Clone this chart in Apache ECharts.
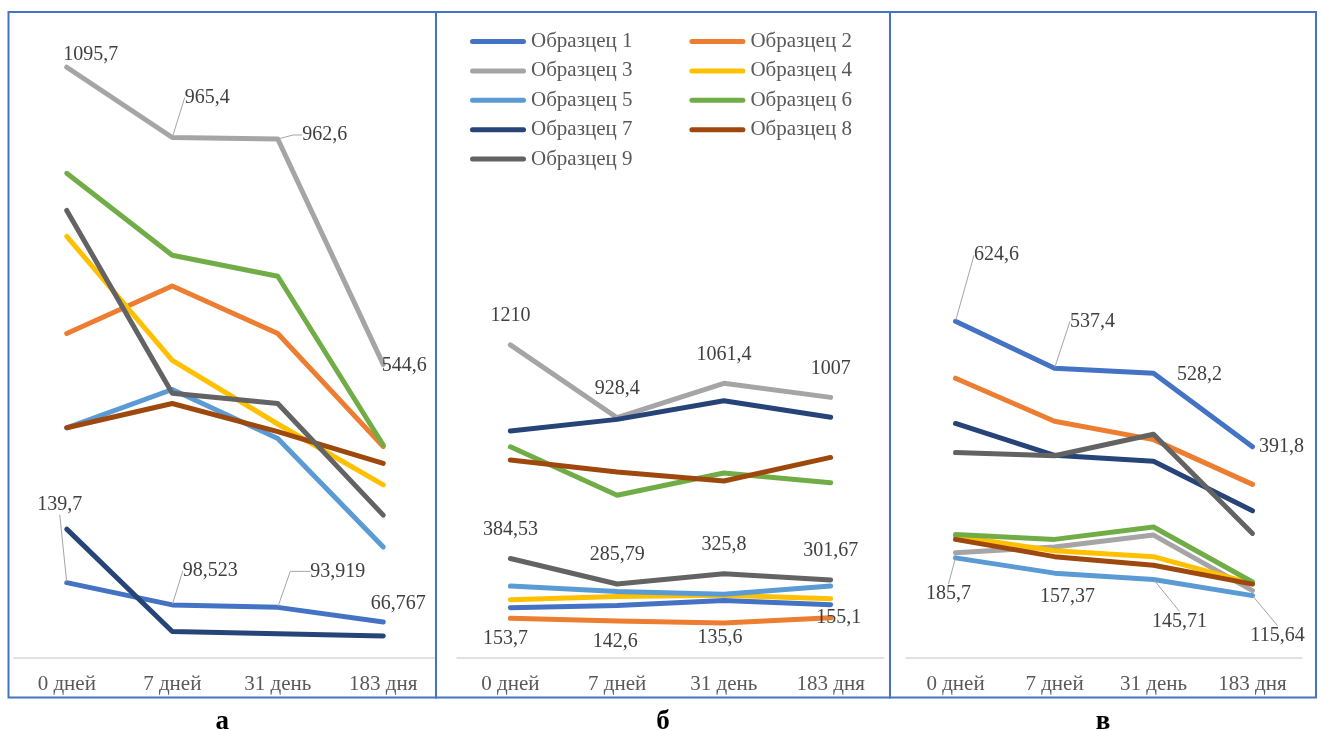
<!DOCTYPE html>
<html><head><meta charset="utf-8">
<script src="https://cdn.jsdelivr.net/npm/echarts@6/dist/echarts.min.js"></script>
<style>html,body{margin:0;padding:0;background:#fff}#c{width:1321px;height:731px}</style>
</head><body><div id="c"></div>
<script>
// ---------- data ----------
const categories = ['0 дней', '7 дней', '31 день', '183 дня'];
const seriesNames = ['Образцец 1','Образцец 2','Образцец 3','Образцец 4','Образцец 5','Образцец 6','Образцец 7','Образцец 8','Образцец 9'];
const panelLetters = ['а', 'б', 'в'];

// panel а (one row per sample)
const panelA = [
  [139.7, 98.523, 93.919, 66.767],
  [602, 690, 602, 392],
  [1095.7, 965.4, 962.6, 544.6],
  [782, 552, 434, 321],
  [427, 498, 407, 206],
  [899, 747, 708, 395],
  [239, 49, 45, 41],
  [427, 472, 420, 361],
  [830, 491, 472, 265]
];
// panel б
const panelB = [
  [194, 203, 222, 206],
  [153.7, 142.6, 135.6, 155.1],
  [1210, 928.4, 1061.4, 1007],
  [225, 238, 242, 229],
  [278, 257, 246, 278],
  [816, 629, 715, 677],
  [877, 922, 994, 930],
  [765, 719, 684, 775],
  [384.53, 285.79, 325.8, 301.67]
];
// panel в
const panelC = [
  [624.6, 537.4, 528.2, 391.8],
  [519, 439, 405, 322],
  [195, 206, 228, 125],
  [226, 199, 188, 138],
  [185.7, 157.37, 145.71, 115.64],
  [229, 220, 243, 141],
  [435, 376, 365, 273],
  [220, 188, 172, 137],
  [381, 375, 415, 231]
];
const yMax = [1200, 2500, 1200];

// ---------- styles ----------
const colors = ['#4472C4','#ED7D31','#A5A5A5','#FFC000','#5B9BD5','#70AD47','#264478','#9E480E','#636363'];
const grids = [
  {left: 14, width: 422, top: 11, height: 647},
  {left: 457, width: 427, top: 11, height: 647},
  {left: 906, width: 396, top: 11, height: 647}
];
const frames = [[8.5, 12, 427.5, 685.5], [436, 12, 454, 685.5], [890, 12, 426, 685.5]];
// label styling per panel: series index -> [offsets (label centre relative to point), leader length2 (-1 = none)]
const labelCfg = [
  {
    2: {off: [[24,-12],[35,-40],[47,-4],[21,1]], lead: [-1,0,9,-1]},
    0: {off: [[-7,-78],[38,-34],[60,-36],[15,-18]], lead: [0,0,20,-1]}
  },
  {
    2: {off: [[0,-29],[0,-29],[0,-29],[0,-29]], lead: [-1,-1,-1,-1]},
    8: {off: [[0,-29],[0,-29],[0,-29],[0,-29]], lead: [-1,-1,-1,-1]},
    1: {off: [[-5,21],[-2,21],[-4,15],[8,0]], lead: [-1,-1,-1,-1]}
  },
  {
    0: {off: [[41,-66],[38,-47],[46,2],[29,0]], lead: [0,0,-1,-1]},
    4: {off: [[-7,36],[13,24],[26,42],[25,40]], lead: [0,-1,0,0]}
  }
];
const serif = 'Liberation Serif';

const fmt = v => String(v).replace('.', ',');
const panels = [panelA, panelB, panelC];

const xAxis = [], yAxis = [], series = [];
panels.forEach((rows, p) => {
  xAxis.push({
    type: 'category', gridIndex: p, data: categories, boundaryGap: true,
    axisLine: {show: true, lineStyle: {color: '#D9D9D9', width: 1.5}},
    axisTick: {show: false},
    axisLabel: {fontFamily: serif, fontSize: 21, color: '#595959', margin: 16},
    splitLine: {show: false}
  });
  yAxis.push({type: 'value', gridIndex: p, min: 0, max: yMax[p], show: false, splitLine: {show: false}});
  rows.forEach((vals, s) => {
    const cfg = labelCfg[p][s];
    const item = {
      type: 'line', name: seriesNames[s], xAxisIndex: p, yAxisIndex: p,
      color: colors[s],
      lineStyle: {color: colors[s], width: 5, cap: 'round', join: 'round'},
      itemStyle: {color: colors[s]},
      symbol: 'circle', symbolSize: 2, showSymbol: true,
      silent: true, animation: false, z: 2 + s,
      emphasis: {disabled: true},
      data: cfg ? vals.map((v, i) => ({value: v, labelLine: {show: cfg.lead[i] >= 0, length2: Math.max(cfg.lead[i], 0)}})) : vals
    };
    if (cfg) {
      item.label = {
        show: true, position: 'inside', fontFamily: serif, fontSize: 20, color: '#404040',
        textBorderWidth: 0, formatter: q => fmt(q.value)
      };
      item.labelLine = {lineStyle: {color: '#A5A5A5', width: 1}};
      item.labelLayout = function (q) {
        const o = cfg.off[q.dataIndex];
        return {x: q.rect.x + q.rect.width / 2 + o[0], y: q.rect.y + q.rect.height / 2 + o[1], align: 'center', verticalAlign: 'middle'};
      };
    }
    series.push(item);
  });
});

const graphic = [];
frames.forEach(f => graphic.push({type: 'rect', shape: {x: f[0], y: f[1], width: f[2], height: f[3]}, style: {fill: 'none', stroke: '#4472C4', lineWidth: 2}, silent: true, z: 100}));
panelLetters.forEach((t, i) => {
  const f = frames[i];
  graphic.push({type: 'text', x: f[0] + f[2] / 2, y: 722, style: {text: t, font: 'bold 27px "Liberation Serif"', fill: '#000', align: 'center', verticalAlign: 'middle', textAlign: 'center', textVerticalAlign: 'middle'}, silent: true});
});

const chart = echarts.init(document.getElementById('c'), null, {renderer: 'canvas'});
chart.setOption({
  backgroundColor: '#fff',
  animation: false,
  grid: grids,
  xAxis, yAxis, series, graphic,
  legend: {
    left: 470, top: 31, width: 440, orient: 'horizontal', padding: 0,
    itemWidth: 56, itemHeight: 5, itemGap: 8.4,
    icon: 'path://M2.5,0H53.5A2.5,2.5,0,0,1,53.5,5H2.5A2.5,2.5,0,0,1,2.5,0Z',
    itemStyle: {borderWidth: 0},
    textStyle: {fontFamily: serif, fontSize: 21, color: '#595959', width: 150, lineHeight: 20},
    data: seriesNames, selectedMode: false
  }
});
</script></body></html>
